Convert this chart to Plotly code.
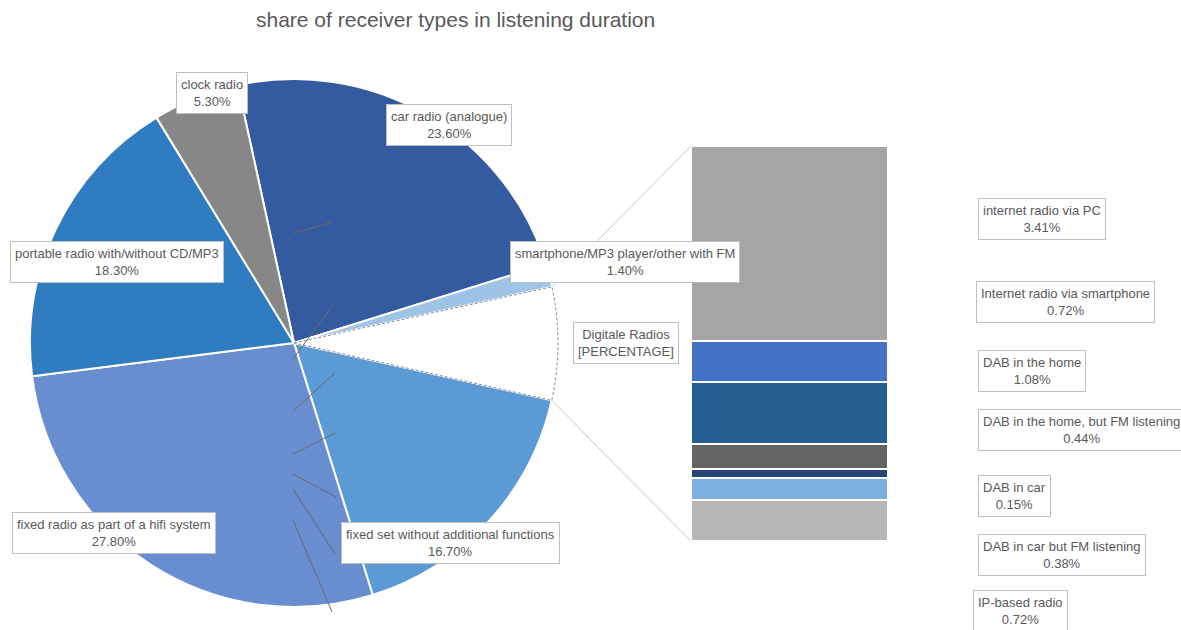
import math
import plotly.graph_objects as go

W, H = 1181, 630

# ---------------- data ----------------
pie_labels = ["car radio (analogue)", "smartphone/MP3 player/other with FM", "Digitale Radios",
              "fixed set without additional functions", "fixed radio as part of a hifi system",
              "portable radio with/without CD/MP3", "clock radio"]
bar_labels = ["internet radio via PC", "Internet radio via smartphone", "DAB in the home",
              "DAB in the home, but FM listening", "DAB in car", "DAB in car but FM listening",
              "IP-based radio"]
bar_values = [3.41, 0.72, 1.08, 0.44, 0.15, 0.38, 0.72]
digital_total = round(sum(bar_values), 2)
pie_values = [23.6, 1.4, digital_total, 16.7, 27.8, 18.3, 5.3]

title_text = "share of receiver types in listening duration"

# ---------------- style ----------------
pie_colors = ["#345A9F", "#9DC3E6", "#FFFFFF", "#5B9BD5", "#698ED0", "#2F7CC0", "#878787"]
bar_colors = ["#A5A5A5", "#4472C4", "#255E91", "#636363", "#264478", "#7CAFDD", "#B7B7B7"]
TXT = "#595959"
FONT = "Arial, Liberation Sans, sans-serif"

# pie geometry (px)
CX, CY, R = 294, 343, 264
ROT = -12.3
# bar geometry (px)
BX0, BX1, BY0, BY1 = 691, 888, 146, 541

def px(x):
    return x / W

def py(y):
    return 1 - y / H

fig = go.Figure()

fig.add_trace(go.Pie(
    labels=pie_labels, values=pie_values, sort=False, direction="clockwise",
    rotation=ROT, textinfo="none", showlegend=False,
    marker=dict(colors=pie_colors,
                line=dict(color=["white", "white", "rgba(0,0,0,0)", "white", "white", "white", "white"],
                          width=2)),
    domain=dict(x=[px(CX - R), px(CX + R)], y=[py(CY + R), py(CY - R)]),
    hovertemplate="%{label}<br>%{value:.2f}%<extra></extra>",
))

# stacked bar (bottom -> top)
for lab, val, col in reversed(list(zip(bar_labels, bar_values, bar_colors))):
    fig.add_trace(go.Bar(
        x=[0], y=[val], name=lab, width=1, marker=dict(color=col, line=dict(color="white", width=2)),
        showlegend=False, hovertemplate=lab + "<br>%{y:.2f}%<extra></extra>",
    ))

fig.update_layout(
    barmode="stack", bargap=0,
    xaxis=dict(domain=[px(BX0), px(BX1)], range=[-0.5, 0.5], visible=False, fixedrange=True),
    yaxis=dict(domain=[py(BY1), py(BY0)], range=[0, digital_total], visible=False, fixedrange=True),
)

# ---- dashed outline for "Digitale Radios" slice + connectors ----
total = sum(pie_values)
start = ROT + 360 * sum(pie_values[:2]) / total
end = start + 360 * pie_values[2] / total

def pt(angle_deg, r=R):
    a = math.radians(angle_deg)
    return CX + r * math.sin(a), CY - r * math.cos(a)

arc = [pt(start + (end - start) * k / 40) for k in range(41)]
path = "M {:.5f} {:.5f} ".format(px(CX), py(CY))
path += " ".join("L {:.5f} {:.5f}".format(px(x), py(y)) for x, y in arc) + " Z"
shapes = [dict(type="path", path=path, xref="paper", yref="paper",
               line=dict(color="#8C8C8C", width=1, dash="3px,2px"), layer="above")]

(sx, sy), (ex, ey) = arc[0], arc[-1]
shapes.append(dict(type="line", xref="paper", yref="paper", x0=px(sx), y0=py(sy),
                   x1=px(BX0), y1=py(BY0), line=dict(color="#C8C8C8", width=1)))
shapes.append(dict(type="line", xref="paper", yref="paper", x0=px(ex), y0=py(ey),
                   x1=px(BX0), y1=py(BY1), line=dict(color="#C8C8C8", width=1)))

# leader lines (decorative, px)
leader_lines = [
    (294, 233, 333, 222), (293, 359, 333, 305), (293, 411, 335, 373),
    (293, 454, 335, 433), (293, 474, 336, 497), (293, 489, 335, 554),
    (293, 520, 332, 612),
]
for x0, y0, x1, y1 in leader_lines:
    shapes.append(dict(type="line", xref="paper", yref="paper", x0=px(x0), y0=py(y0),
                       x1=px(x1), y1=py(y1), line=dict(color="#6A6A6A", width=1), layer="above"))

# ---- labels ----
annotations = []

def box(text, x, y, xanchor="center"):
    annotations.append(dict(
        text=text, x=px(x), y=py(y), xref="paper", yref="paper", showarrow=False,
        xanchor=xanchor, yanchor="middle", align="center",
        font=dict(family=FONT, size=13, color=TXT),
        bgcolor="white", bordercolor="#BFBFBF", borderwidth=1, borderpad=4,
    ))

pie_label_pos = [(449, 125), (625, 262), (625.5, 343), (450, 543), (113.5, 533), (116.7, 262), (211.7, 93)]
for lab, val, (x, y) in zip(pie_labels, pie_values, pie_label_pos):
    if lab == "Digitale Radios":
        box(lab + "<br>[PERCENTAGE]", x, y)
    else:
        box("{}<br>{:.2f}%".format(lab, val), x, y)

bar_label_pos = [(977.5, 219), (975.5, 302), (977.5, 370.5), (978, 430), (978, 496), (978, 555), (972.5, 611)]
for lab, val, (x, y) in zip(bar_labels, bar_values, bar_label_pos):
    box("{}<br>{:.2f}%".format(lab, val), x, y, xanchor="left")

annotations.append(dict(
    text=title_text, x=px(455), y=py(19), xref="paper", yref="paper", showarrow=False,
    xanchor="center", yanchor="middle", font=dict(family=FONT, size=21, color=TXT),
))

fig.update_layout(
    width=W, height=H, margin=dict(l=0, r=0, t=0, b=0),
    paper_bgcolor="white", plot_bgcolor="white",
    shapes=shapes, annotations=annotations,
)

fig.write_html("out.html", config={"displayModeBar": False},
               post_script="document.body.style.margin='0';document.body.style.overflow='hidden';")
